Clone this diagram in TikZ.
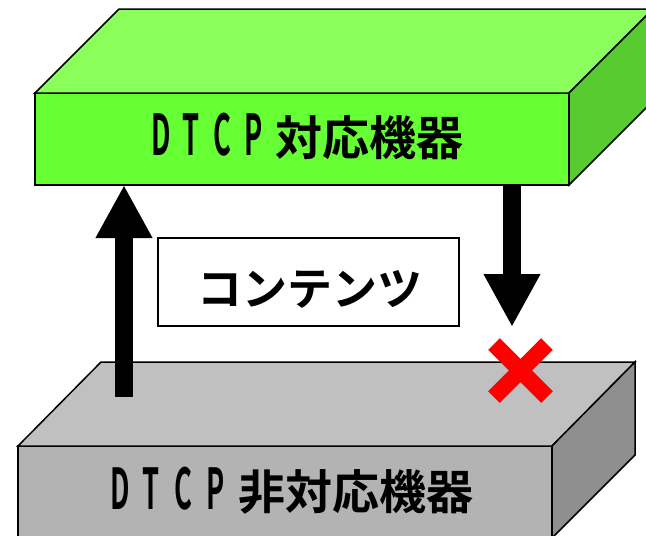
\documentclass[tikz,border=0pt]{standalone}
\usepackage{fontspec}
\usetikzlibrary{arrows.meta}
\newfontfamily\jp[BoldFont={Noto Sans CJK JP Bold}]{Noto Sans CJK JP}
\newcommand{\ltr}[2][31pt]{\makebox[#1][l]{\scalebox{0.58}[1.2]{#2}}}
\definecolor{gFront}{HTML}{66FF33}
\definecolor{gTop}{HTML}{8AFF5C}
\definecolor{gSide}{HTML}{57CC2F}
\definecolor{kFront}{HTML}{B3B3B3}
\definecolor{kTop}{HTML}{C0C0C0}
\definecolor{kSide}{HTML}{8F8F8F}
\tikzset{
  edge/.style={draw=black, line width=1.5pt, line join=miter},
  face/.style={edge, rectangle, inner sep=0pt, outer sep=0pt, minimum width=534pt, minimum height=92pt},
  lbl/.style={inner sep=0pt, font=\jp\bfseries},
  bigarrow/.style={line width=17.5pt, line cap=butt, -{Triangle[length=53pt,width=53pt]}},
  cross/.style={draw=red, line width=16.5pt, line cap=butt}
}
\begin{document}
\begin{tikzpicture}[x=1pt,y=-1pt]
\clip (0,0) rectangle (646,536);
\fill[white] (0,0) rectangle (646,536);
% gray box (non-DTCP)
\node[face, fill=kFront] (non) at (285,492) {};
\draw[edge, fill=kTop] (non.north west) -- ++(83,-84) -- ([shift={(83,-84)}]non.north east) -- (non.north east) -- cycle;
\draw[edge, fill=kSide] (non.north east) -- ++(83,-84) -- ++(0,93) -- (non.south east) -- cycle;
\node[lbl, anchor=base west, font=\jp\bfseries\fontsize{47pt}{50pt}\selectfont] (nonlbl) at (110,509)
  {\ltr[32pt]{D}\ltr[32pt]{T}\ltr[32pt]{C}\ltr[32pt]{P}非対応機器};
% green box (DTCP)
\node[face, fill=gFront] (dtcp) at (302,139) {};
\draw[edge, fill=gTop] (dtcp.north west) -- ++(84,-84) -- ([shift={(84,-84)}]dtcp.north east) -- (dtcp.north east) -- cycle;
\draw[edge, fill=gSide] (dtcp.north east) -- ++(84,-84) -- ++(0,92) -- (dtcp.south east) -- cycle;
\node[lbl, anchor=base west, font=\jp\bfseries\fontsize{47pt}{50pt}\selectfont] (dtcplbl) at (151,155)
  {\ltr{D}\ltr{T}\ltr{C}\ltr{P}対応機器};
% arrows
\coordinate (upstart) at (124,397);
\coordinate (downend) at (512,327);
\draw[bigarrow] (upstart) -- (upstart |- dtcp.south);
\draw[bigarrow] (downend |- dtcp.south) -- (downend);
% contents box
\node[draw=black, line width=1.3pt, fill=white, inner sep=0pt, minimum width=301pt, minimum height=88pt] (cbox) at (308.5,282) {};
\node[lbl, anchor=base, font=\jp\bfseries\fontsize{45pt}{48pt}\selectfont] (ctext) at (310,305) {コンテンツ};
% red cross
\draw[cross] (494,344) -- (547,397);
\draw[cross] (494,397) -- (547,344);
\end{tikzpicture}
\end{document}
